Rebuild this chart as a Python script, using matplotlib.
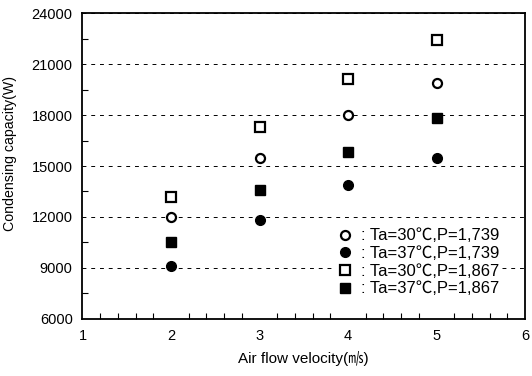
import numpy as np
import matplotlib.pyplot as plt
from matplotlib.ticker import MultipleLocator

plt.rcParams['font.family'] = ['Liberation Sans', 'Noto Sans CJK KR', 'DejaVu Sans']

# data
velocity = [2, 3, 4, 5]
q_30_1739 = [12000, 15450, 18000, 19900]
q_37_1739 = [9100, 11800, 13900, 15500]
q_30_1867 = [13150, 17300, 20100, 22400]
q_37_1867 = [10500, 13600, 15850, 17800]

labels = [': Ta=30\u2103,P=1,739',
          ': Ta=37\u2103,P=1,739',
          ': Ta=30\u2103,P=1,867',
          ': Ta=37\u2103,P=1,867']

fig, ax = plt.subplots(figsize=(5.32, 3.76), dpi=100)
fig.subplots_adjust(left=0.155, right=0.987, top=0.965, bottom=0.152)

ax.plot(velocity, q_30_1739, linestyle='none', marker='o', markersize=6.5,
        markerfacecolor='white', markeredgecolor='black', markeredgewidth=1.6, label=labels[0])
ax.plot(velocity, q_37_1739, linestyle='none', marker='o', markersize=7,
        color='black', label=labels[1])
ax.plot(velocity, q_30_1867, linestyle='none', marker='s', markersize=6.5,
        markerfacecolor='white', markeredgecolor='black', markeredgewidth=1.6, label=labels[2])
ax.plot(velocity, q_37_1867, linestyle='none', marker='s', markersize=7,
        color='black', label=labels[3])

ax.set_xlim(1, 6)
ax.set_ylim(6000, 24000)
ax.xaxis.set_major_locator(MultipleLocator(1))
ax.xaxis.set_minor_locator(MultipleLocator(0.2))
ax.yaxis.set_major_locator(MultipleLocator(3000))
ax.yaxis.set_minor_locator(MultipleLocator(1500))

# сетка
ax.grid(which='major', axis='y', color='black', linewidth=0.7,
        linestyle=(0, (4, 5)))
ax.set_axisbelow(True)

ax.tick_params(which='both', direction='in', top=False, right=False,
               labelsize=10.5, pad=7)
ax.tick_params(which='major', length=0)
ax.tick_params(which='minor', length=4, width=0.8)
for s in ax.spines.values():
    s.set_linewidth(1.3)

ax.set_xlabel('Air flow velocity(\u33a7)', fontsize=11, labelpad=6)
ax.set_ylabel('Condensing capacity(W)', fontsize=10.2)
ax.yaxis.set_label_coords(-0.148, 0.54)

leg = ax.legend(loc='lower right', bbox_to_anchor=(0.945, 0.068), borderaxespad=0,
                frameon=True, facecolor='white', edgecolor='none', framealpha=1,
                fancybox=False, fontsize=12, handletextpad=0.45,
                labelspacing=0.16, handlelength=1.0, borderpad=0.1)

fig.savefig('out.png')
